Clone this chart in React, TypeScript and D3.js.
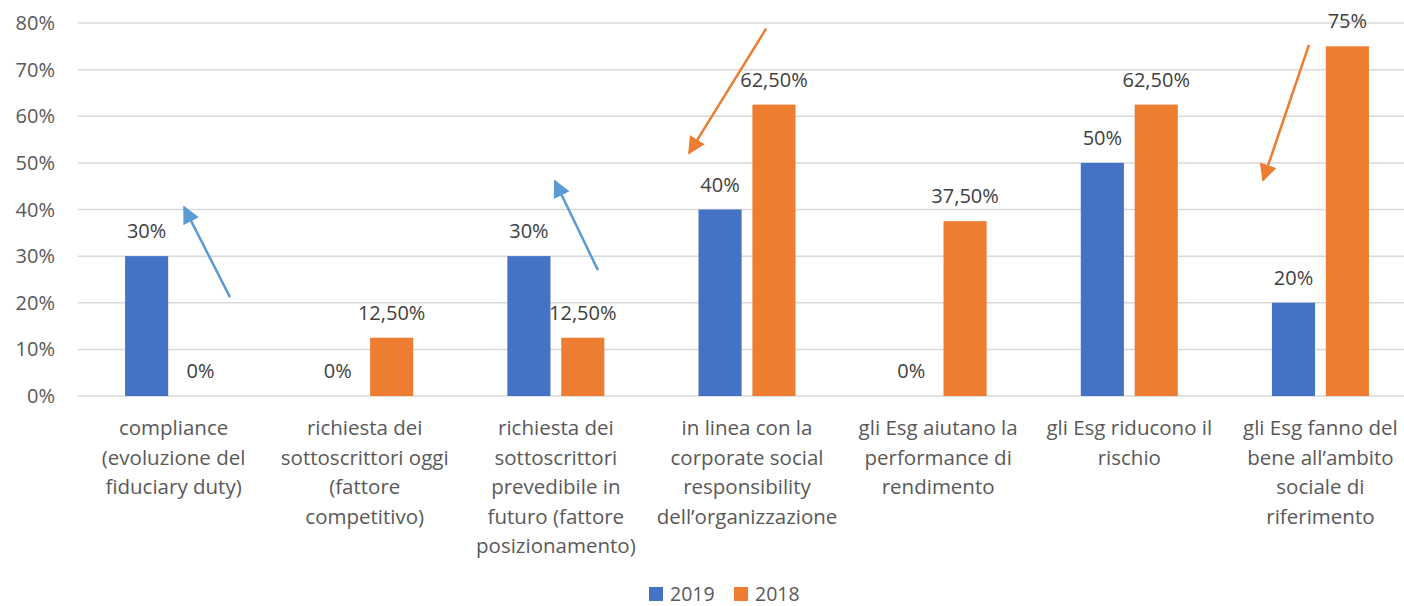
import React from "react";
import * as d3 from "d3";

const WIDTH = 1404;
const HEIGHT = 606;
const MARGINS = { top: 23, right: -12, bottom: 210, left: 78 };

const categories = [
  ["compliance", "(evoluzione del", "fiduciary duty)"],
  ["richiesta dei", "sottoscrittori oggi", "(fattore", "competitivo)"],
  ["richiesta dei", "sottoscrittori", "prevedibile in", "futuro (fattore", "posizionamento)"],
  ["in linea con la", "corporate social", "responsibility", "dell\u2019organizzazione"],
  ["gli Esg aiutano la", "performance di", "rendimento"],
  ["gli Esg riducono il", "rischio"],
  ["gli Esg fanno del", "bene all\u2019ambito", "sociale di", "riferimento"],
];

const seriesNames = ["2019", "2018"];
const values2019 = [0.3, 0, 0.3, 0.4, 0, 0.5, 0.2];
const values2018 = [0, 0.125, 0.125, 0.625, 0.375, 0.625, 0.75];
const colors = ["#4472C4", "#ED7D31"];

const yTicks = [0, 0.1, 0.2, 0.3, 0.4, 0.5, 0.6, 0.7, 0.8];

// annotation arrows, in category units (x) and value units (y)
const arrows = [
  { x1: 0.795, y1: 0.212, x2: 0.555, y2: 0.405, color: "#5B9BD5" },
  { x1: 2.72, y1: 0.27, x2: 2.495, y2: 0.461, color: "#5B9BD5" },
  { x1: 3.6, y1: 0.788, x2: 3.197, y2: 0.521, color: "#ED7D31" },
  { x1: 6.44, y1: 0.753, x2: 6.2, y2: 0.463, color: "#ED7D31" },
];

const FONT = "'Open Sans', 'Segoe UI', sans-serif";

const fmt = (v: number) => {
  const p = v * 100;
  return Number.isInteger(p) ? `${p}%` : `${p.toFixed(2).replace(".", ",")}%`;
};

const App = () => {
  const ref = React.useRef<SVGSVGElement>(null);

  React.useEffect(() => {
    const svg = d3.select(ref.current!);
    svg.selectAll("*").remove();

    const plotW = WIDTH - MARGINS.left - MARGINS.right;
    const plotH = HEIGHT - MARGINS.top - MARGINS.bottom;
    const g = svg.append("g").attr("transform", `translate(${MARGINS.left}, ${MARGINS.top})`);

    const idx = categories.map((_, i) => i);
    const x0 = d3
      .scaleBand<number>()
      .domain(idx)
      .range([0, plotW])
      .paddingInner(0.4925)
      .paddingOuter(0.24625);
    const x1 = d3
      .scaleBand<string>()
      .domain(seriesNames)
      .range([0, x0.bandwidth()])
      .paddingInner(0.2)
      .paddingOuter(0);
    const xCont = d3.scaleLinear().domain([0, categories.length]).range([0, plotW]);
    const y = d3.scaleLinear().domain([0, 0.8]).range([plotH, 0]);

    // gridlines
    g.append("g")
      .selectAll("line")
      .data(yTicks)
      .enter()
      .append("line")
      .attr("x1", 0)
      .attr("x2", plotW)
      .attr("y1", (d) => y(d))
      .attr("y2", (d) => y(d))
      .attr("stroke", "#D9D9D9")
      .attr("stroke-width", 1.5);

    // y tick labels
    g.append("g")
      .selectAll("text")
      .data(yTicks)
      .enter()
      .append("text")
      .attr("x", -23)
      .attr("y", (d) => y(d))
      .attr("dy", "0.35em")
      .attr("text-anchor", "end")
      .attr("font-family", FONT)
      .attr("font-size", 20)
      .attr("fill", "#595959")
      .text((d) => `${Math.round(d * 100)}%`);

    const series = [values2019, values2018];
    series.forEach((vals, s) => {
      const name = seriesNames[s];
      const sg = g.append("g");
      sg.selectAll("rect")
        .data(vals)
        .enter()
        .append("rect")
        .attr("x", (_, i) => x0(i)! + x1(name)!)
        .attr("y", (d) => y(d))
        .attr("width", x1.bandwidth())
        .attr("height", (d) => plotH - y(d))
        .attr("fill", colors[s]);
      sg.selectAll("text")
        .data(vals)
        .enter()
        .append("text")
        .attr("x", (_, i) => x0(i)! + x1(name)! + x1.bandwidth() / 2)
        .attr("y", (d) => y(d) - 18)
        .attr("text-anchor", "middle")
        .attr("font-family", FONT)
        .attr("font-size", 20)
        .attr("fill", "#404040")
        .text((d) => fmt(d));
    });

    // category labels
    const cg = g.append("g");
    categories.forEach((lines, i) => {
      const t = cg
        .append("text")
        .attr("text-anchor", "middle")
        .attr("font-family", FONT)
        .attr("font-size", 20.5)
        .attr("fill", "#595959")
        .attr("transform", `translate(${x0(i)! + x0.bandwidth() / 2}, ${plotH + 39})`);
      lines.forEach((ln, k) => {
        t.append("tspan").attr("x", 0).attr("y", k * 29.5).text(ln);
      });
    });

    // arrows
    const defs = svg.append("defs");
    arrows.forEach((a, i) => {
      defs
        .append("marker")
        .attr("id", `ah${i}`)
        .attr("viewBox", "0 0 10 10")
        .attr("refX", 9)
        .attr("refY", 5)
        .attr("markerWidth", 7)
        .attr("markerHeight", 7)
        .attr("markerUnits", "strokeWidth")
        .attr("orient", "auto")
        .append("path")
        .attr("d", "M0,0 L10,5 L0,10 z")
        .attr("fill", a.color);
    });
    g.append("g")
      .selectAll("line")
      .data(arrows)
      .enter()
      .append("line")
      .attr("x1", (d) => xCont(d.x1))
      .attr("y1", (d) => y(d.y1))
      .attr("x2", (d) => xCont(d.x2))
      .attr("y2", (d) => y(d.y2))
      .attr("stroke", (d) => d.color)
      .attr("stroke-width", 2.5)
      .attr("marker-end", (_, i) => `url(#ah${i})`);

    // legend
    const lg = svg.append("g").attr("transform", `translate(649, 587)`);
    seriesNames.forEach((name, i) => {
      const item = lg.append("g").attr("transform", `translate(${i * 85}, 0)`);
      item.append("rect").attr("width", 14).attr("height", 14).attr("fill", colors[i]);
      item
        .append("text")
        .attr("x", 21)
        .attr("y", 7)
        .attr("dy", "0.35em")
        .attr("font-family", FONT)
        .attr("font-size", 19.5)
        .attr("fill", "#595959")
        .text(name);
    });
  }, []);

  return (
    <svg
      ref={ref}
      width={WIDTH}
      height={HEIGHT}
      style={{ position: "absolute", left: 0, top: 0, background: "#fff" }}
    />
  );
};

export default App;
